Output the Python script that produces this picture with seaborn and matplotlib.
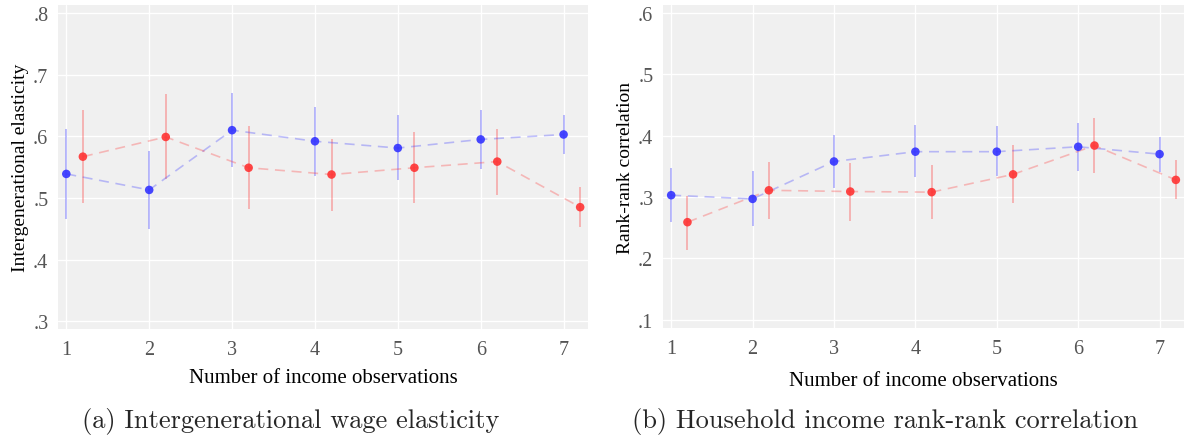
import numpy as np
import pandas as pd
import seaborn as sns
import matplotlib.pyplot as plt

# data
n_obs = [1, 2, 3, 4, 5, 6, 7]

# (a) wage elasticity
ige_blue = [0.539, 0.513, 0.610, 0.592, 0.581, 0.595, 0.603]
ige_blue_lo = [0.465, 0.449, 0.551, 0.536, 0.529, 0.547, 0.572]
ige_blue_hi = [0.612, 0.577, 0.670, 0.648, 0.634, 0.643, 0.634]
ige_red = [0.567, 0.599, 0.549, 0.538, 0.549, 0.559, 0.485]
ige_red_lo = [0.491, 0.531, 0.482, 0.479, 0.492, 0.504, 0.452]
ige_red_hi = [0.642, 0.668, 0.616, 0.596, 0.607, 0.612, 0.517]

# (b) rank-rank correlation
rr_blue = [0.303, 0.297, 0.358, 0.374, 0.374, 0.382, 0.370]
rr_blue_lo = [0.259, 0.253, 0.315, 0.332, 0.334, 0.343, 0.341]
rr_blue_hi = [0.347, 0.342, 0.401, 0.417, 0.416, 0.421, 0.398]
rr_red = [0.259, 0.311, 0.309, 0.308, 0.337, 0.384, 0.328]
rr_red_lo = [0.214, 0.264, 0.261, 0.264, 0.290, 0.339, 0.296]
rr_red_hi = [0.302, 0.357, 0.356, 0.353, 0.385, 0.429, 0.360]

sns.set_style("darkgrid", {"axes.facecolor": "#f0f0f0", "grid.color": "white"})
plt.rcParams['font.family'] = ['Liberation Serif', 'DejaVu Serif']

BLUE = "#3333ff"
RED = "#ff3333"
shift = 0.2


def make_df(est, lo, hi, offset):
    return pd.DataFrame({"x": np.array(n_obs) + offset, "est": est, "lo": lo, "hi": hi})


def draw_panel(ax, blue_df, red_df, ylim, yticks, ylabel, xpad):
    for df, col in [(blue_df, BLUE), (red_df, RED)]:
        ax.vlines(df["x"], df["lo"], df["hi"], color=col, alpha=0.35, lw=1.3, zorder=2)
        sns.lineplot(data=df, x="x", y="est", ax=ax, color=col, alpha=0.3,
                     lw=1.2, linestyle=(0, (6, 4)), zorder=3)
        sns.scatterplot(data=df, x="x", y="est", ax=ax, color=col, s=38,
                        edgecolor="none", alpha=0.9, zorder=4)
    ax.set_xlim(0.9, 7.3)
    ax.set_ylim(*ylim)
    ax.set_xticks(n_obs)
    ax.set_yticks(yticks)
    ax.set_yticklabels(["." + f"{t:.1f}".split(".")[1] for t in yticks])
    ax.tick_params(axis="both", colors="#cccccc", labelcolor="#555555",
                   labelsize=14.5, length=4, width=0.8, direction="out")
    ax.tick_params(axis="x", pad=4)
    ax.tick_params(axis="y", pad=3)
    ax.set_xlabel("Number of income observations", fontsize=15, color="black",
                  labelpad=xpad)
    ax.set_ylabel(ylabel, fontsize=14, color="black", labelpad=3)
    for s in ax.spines.values():
        s.set_visible(False)
    ax.grid(True, color="white", lw=1)


fig = plt.figure(figsize=(11.84, 4.39), dpi=100)
ax1 = fig.add_axes([0.049, 0.248, 0.448, 0.738])
ax2 = fig.add_axes([0.560, 0.250, 0.440, 0.736])

draw_panel(ax1, make_df(ige_blue, ige_blue_lo, ige_blue_hi, 0),
           make_df(ige_red, ige_red_lo, ige_red_hi, shift),
           (0.287, 0.813), [0.3, 0.4, 0.5, 0.6, 0.7, 0.8],
           "Intergenerational elasticity", 6)
draw_panel(ax2, make_df(rr_blue, rr_blue_lo, rr_blue_hi, 0),
           make_df(rr_red, rr_red_lo, rr_red_hi, shift),
           (0.086, 0.613), [0.1, 0.2, 0.3, 0.4, 0.5, 0.6],
           "Rank-rank correlation", 9)

fig.text(0.2455, 0.039, "(a) Intergenerational wage elasticity", ha="center",
         va="center", fontsize=19, family=["cmr10", "DejaVu Serif"])
fig.text(0.7475, 0.039, "(b) Household income rank-rank correlation", ha="center",
         va="center", fontsize=19, family=["cmr10", "DejaVu Serif"])

fig.savefig("out.png", dpi=100)
